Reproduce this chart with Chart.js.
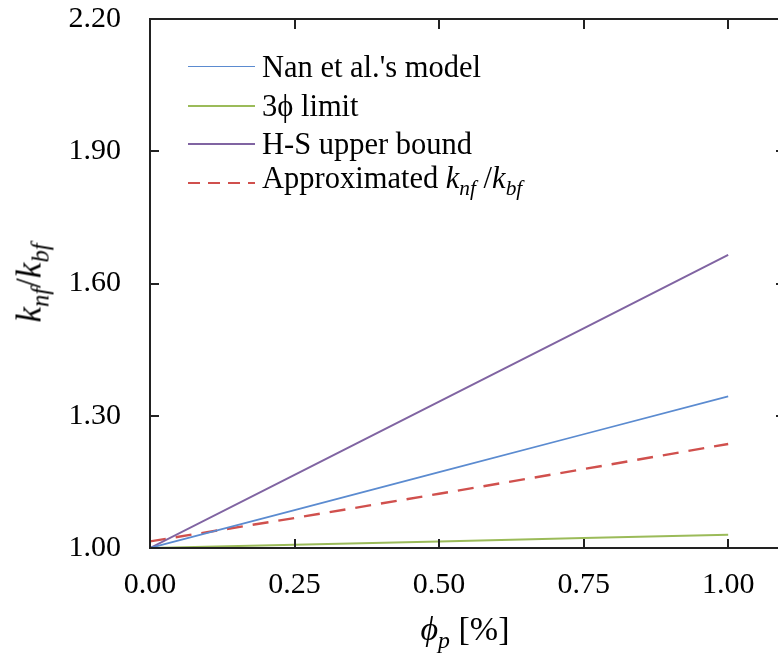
<!DOCTYPE html>
<html>
<head>
<meta charset="utf-8">
<script src="https://cdn.jsdelivr.net/npm/chart.js@4/dist/chart.umd.min.js"></script>
<style>
  html, body { margin:0; padding:0; background:#fff; overflow:hidden; width:778px; height:657px; }
  #wrap { position:relative; width:800px; height:657px; overflow:hidden; }
  #c { position:absolute; left:0; top:-28px; }
  .serif { font-family: "Liberation Serif", "Times New Roman", serif; color:#000; }
  .lg { position:absolute; left:188px; font-size:30.5px; line-height:30px; white-space:nowrap; }
  .lg .sample { position:absolute; left:0; width:67px; top:50%; }
  .lg .txt { position:absolute; left:74px; top:50%; transform:translateY(-50%); }
  #ytitle { position:absolute; left:32px; top:283px; transform:translate(-50%,-50%) rotate(-90deg); font-size:35px; white-space:nowrap; }
  #xtitle { position:absolute; left:465px; top:632px; transform:translate(-50%,-50%); font-size:34px; white-space:nowrap; }
  i sub { font-size:0.7em; }
</style>
</head>
<body>
<div id="wrap">
  <canvas id="c" width="800" height="685"></canvas>
  <div class="serif" id="legend"></div>
  <div class="serif" id="ytitle"><i>k<sub>nf</sub></i>/<i>k<sub>bf</sub></i></div>
  <div class="serif" id="xtitle"><i>ϕ<sub>p</sub></i> [%]</div>
</div>
<script>
// ---- data ----
const phi      = [0.00, 0.25, 0.50, 0.75, 1.00];
const nanModel = [1.000, 1.086, 1.172, 1.258, 1.344];
const limit3   = [1.000, 1.0075, 1.015, 1.0225, 1.030];
const hsUpper  = [1.000, 1.166, 1.332, 1.498, 1.665];
const approx   = [1.015, 1.068, 1.123, 1.179, 1.236];
const seriesNames = ["Nan et al.'s model", "3ϕ limit", "H-S upper bound", "Approximated"];
const xTicks = [0.00, 0.25, 0.50, 0.75, 1.00];
const yTicks = [1.00, 1.30, 1.60, 1.90, 2.20];

const colors = ['#5B8BD0', '#9BBB59', '#8064A2', '#D0504D'];

function pts(ys) { return phi.map((x, i) => ({x: x, y: ys[i]})); }

const frame = {
  id: 'frame',
  afterDraw(chart) {
    const ctx = chart.ctx, a = chart.chartArea;
    const xs = chart.scales.x, ys = chart.scales.y;
    ctx.save();
    ctx.strokeStyle = '#222';
    ctx.lineWidth = 2;
    ctx.strokeRect(a.left, a.top, a.right - a.left, a.bottom - a.top);
    ctx.beginPath();
    xTicks.forEach(v => {
      const px = Math.round(xs.getPixelForValue(v));
      ctx.moveTo(px, a.bottom); ctx.lineTo(px, a.bottom - 9);
      ctx.moveTo(px, a.top); ctx.lineTo(px, a.top + 10);
    });
    yTicks.forEach(v => {
      const py = Math.round(ys.getPixelForValue(v));
      ctx.moveTo(a.left, py); ctx.lineTo(a.left + 9, py);
      ctx.moveTo(a.right, py); ctx.lineTo(a.right - 10, py);
    });
    ctx.stroke();
    ctx.restore();
  }
};

const chart = new Chart(document.getElementById('c'), {
  type: 'line',
  data: {
    datasets: [
      { label: seriesNames[0], data: pts(nanModel), borderColor: colors[0], borderWidth: 1.7 },
      { label: seriesNames[1], data: pts(limit3),   borderColor: colors[1], borderWidth: 2 },
      { label: seriesNames[2], data: pts(hsUpper),  borderColor: colors[2], borderWidth: 2 },
      { label: seriesNames[3], data: pts(approx),   borderColor: colors[3], borderWidth: 2.4, borderDash: [16, 10] }
    ]
  },
  options: {
    responsive: false,
    animation: false,
    devicePixelRatio: 1,
    layout: { padding: { left: 0, top: 17, right: 14, bottom: 0 } },
    elements: { point: { radius: 0 }, line: { tension: 0 } },
    plugins: { legend: { display: false }, tooltip: { enabled: false } },
    scales: {
      x: {
        type: 'linear', min: 0, max: 1.1,
        grid: { display: false, drawTicks: false },
        border: { display: false },
        ticks: {
          stepSize: 0.25, includeBounds: false, padding: 19, color: '#000',
          font: { family: 'Liberation Serif', size: 30 },
          callback: v => v.toFixed(2)
        },
        afterFit(s) { s.height = 109; }
      },
      y: {
        type: 'linear', min: 1.0, max: 2.2,
        grid: { display: false, drawTicks: false },
        border: { display: false },
        ticks: {
          stepSize: 0.3, padding: 29, color: '#000',
          font: { family: 'Liberation Serif', size: 30 },
          callback: v => v.toFixed(2)
        },
        afterFit(s) { s.width = 150; }
      }
    }
  },
  plugins: [frame]
});

// HTML legend (rich text for subscripts)
const legendRows = [
  { y: 67,  html: "Nan et al.'s model" },
  { y: 106, html: "3ϕ limit" },
  { y: 144, html: "H-S upper bound" },
  { y: 183, html: "Approximated <i>k<sub>nf</sub></i> /<i>k<sub>bf</sub></i>" }
];
const lg = document.getElementById('legend');
legendRows.forEach((r, i) => {
  const d = document.createElement('div');
  d.className = 'lg';
  d.style.top = (r.y - 15) + 'px';
  d.style.height = '30px';
  const s = document.createElement('div');
  s.className = 'sample';
  const bw = i === 0 ? 1.7 : 2;
  s.style.borderTop = bw + 'px solid ' + colors[i];
  s.style.marginTop = (-bw / 2) + 'px';
  if (i === 3) {
    s.style.borderTop = 'none';
    s.style.height = '2px';
    s.style.marginTop = '-1px';
    s.style.background = 'repeating-linear-gradient(90deg,' + colors[3] + ' 0 12px, transparent 12px 20px)';
  }
  const t = document.createElement('div');
  t.className = 'txt';
  t.innerHTML = r.html;
  d.appendChild(s); d.appendChild(t);
  lg.appendChild(d);
});
</script>
</body>
</html>
